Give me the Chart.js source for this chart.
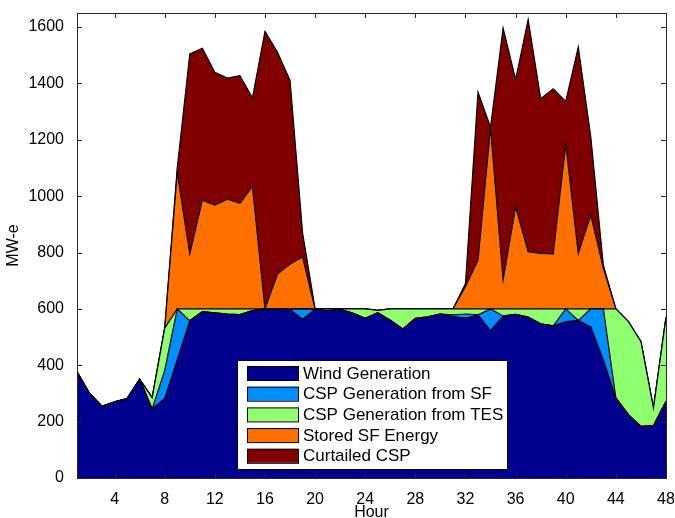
<!DOCTYPE html>
<html>
<head>
<meta charset="utf-8">
<script src="https://cdn.jsdelivr.net/npm/chart.js@4.4.1/dist/chart.umd.min.js"></script>
<style>
  html, body { margin: 0; padding: 0; background: #fff; }
</style>
</head>
<body>
<canvas id="energyChart" width="675" height="518"></canvas>
<script>
// Hourly dispatch, MW-e (stacked areas, bottom to top)
const hours = [1, 2, 3, 4, 5, 6, 7, 8, 9, 10, 11, 12, 13, 14, 15, 16, 17, 18, 19, 20, 21, 22, 23, 24,
  25, 26, 27, 28, 29, 30, 31, 32, 33, 34, 35, 36, 37, 38, 39, 40, 41, 42, 43, 44, 45, 46, 47, 48];

const windGeneration = [377, 300, 254, 270, 282, 350, 245, 282, 420, 558, 590, 586, 582, 580, 594, 599,
  600, 598, 563, 598, 594, 598, 585, 567, 587, 560, 529, 567, 572, 582, 573, 567,
  579, 523, 575, 581, 571, 547, 540, 555, 559, 536, 419, 284, 225, 183, 186, 272];

const cspFromSF = [0, 0, 0, 0, 0, 0, 0, 100, 180, 0, 0, 0, 0, 0, 0, 0,
  0, 0, 37, 0, 0, 0, 0, 0, 0, 0, 0, 0, 0, 0, 6, 15,
  0, 77, 0, 0, 0, 0, 0, 45, 0, 64, 181, 0, 0, 0, 0, 0];

const cspFromTES = [0, 0, 0, 0, 0, 0, 40, 150, 0, 42, 10, 14, 18, 20, 6, 1,
  0, 2, 0, 2, 6, 2, 15, 33, 8, 40, 71, 33, 28, 18, 21, 18,
  21, 0, 25, 19, 29, 53, 60, 0, 41, 0, 0, 316, 330, 301, 62, 298];

const storedSF = [0, 0, 0, 0, 0, 0, 0, 0, 485, 195, 386, 368, 389, 375, 435, 0,
  124, 159, 184, 0, 0, 0, 0, 0, 0, 0, 0, 0, 0, 0, 0, 80,
  173, 645, 103, 362, 203, 197, 195, 586, 197, 333, 145, 0, 0, 0, 0, 0];

const curtailedCSP = [0, 0, 0, 0, 0, 0, 0, 0, 15, 710, 539, 472, 430, 453, 314, 985,
  787, 652, 86, 0, 0, 0, 0, 0, 0, 0, 0, 0, 0, 0, 0, 10,
  596, 0, 894, 452, 824, 549, 586, 150, 732, 277, 10, 0, 0, 0, 0, 0];

const seriesNames = ['Wind Generation', 'CSP Generation from SF', 'CSP Generation from TES',
  'Stored SF Energy', 'Curtailed CSP'];
const seriesValues = [windGeneration, cspFromSF, cspFromTES, storedSF, curtailedCSP];
const seriesColors = ['#00008f', '#008fff', '#8fff70', '#ff7000', '#800000'];

const xTicks = [4, 8, 12, 16, 20, 24, 28, 32, 36, 40, 44, 48];
const yTicks = [0, 200, 400, 600, 800, 1000, 1200, 1400, 1600];

const FONT = '"Liberation Sans", Arial, Helvetica, sans-serif';

// MATLAB-like box with inward ticks on all four sides
const boxAxes = {
  id: 'boxAxes',
  afterDatasetsDraw(chart) {
    const { ctx, chartArea: a, scales } = chart;
    const len = 5;
    ctx.save();
    ctx.strokeStyle = '#262626';
    ctx.lineWidth = 1;
    ctx.beginPath();
    xTicks.forEach(v => {
      const px = Math.round(scales.x.getPixelForValue(v)) + 0.5;
      ctx.moveTo(px, a.bottom); ctx.lineTo(px, a.bottom - len);
      ctx.moveTo(px, a.top); ctx.lineTo(px, a.top + len);
    });
    yTicks.forEach(v => {
      const py = Math.round(scales.y.getPixelForValue(v)) + 0.5;
      ctx.moveTo(a.left, py); ctx.lineTo(a.left + len, py);
      ctx.moveTo(a.right, py); ctx.lineTo(a.right - len, py);
    });
    ctx.stroke();
    ctx.strokeRect(Math.round(a.left) + 0.5, Math.round(a.top) + 0.5,
      Math.round(a.right - a.left), Math.round(a.bottom - a.top));
    ctx.restore();
  }
};

// Legend box drawn inside the plot, like the original figure
const boxLegend = {
  id: 'boxLegend',
  afterDraw(chart) {
    const { ctx } = chart;
    const left = 237, top = 360, width = 270, height = 109;
    const rowStep = 20.7;
    ctx.save();
    ctx.fillStyle = '#fff';
    ctx.fillRect(left, top, width, height);
    ctx.strokeStyle = '#000';
    ctx.lineWidth = 1;
    ctx.strokeRect(left + 0.5, top + 0.5, width, height);
    ctx.font = '17px ' + FONT;
    ctx.textBaseline = 'middle';
    ctx.textAlign = 'left';
    chart.data.datasets.forEach((ds, i) => {
      const sy = top + 6 + i * rowStep;
      ctx.fillStyle = ds.backgroundColor;
      ctx.fillRect(left + 10, sy, 51, 14);
      ctx.strokeRect(left + 10.5, sy + 0.5, 51, 14);
      ctx.fillStyle = '#000';
      ctx.fillText(ds.label, left + 66, sy + 8);
    });
    ctx.restore();
  }
};

const datasets = seriesNames.map((name, i) => ({
  label: name,
  data: hours.map((h, j) => ({ x: h, y: seriesValues[i][j] })),
  backgroundColor: seriesColors[i],
  borderColor: '#000',
  borderWidth: 1.2,
  pointRadius: 0,
  tension: 0,
  fill: i === 0 ? 'origin' : '-1'
}));

new Chart(document.getElementById('energyChart').getContext('2d'), {
  type: 'line',
  data: { datasets: datasets },
  options: {
    responsive: false,
    animation: false,
    devicePixelRatio: 1,
    layout: { padding: { top: 13, right: 9, left: 0, bottom: 0 } },
    plugins: {
      legend: { display: false },
      tooltip: { enabled: false }
    },
    scales: {
      x: {
        type: 'linear',
        min: 1,
        max: 48,
        grid: { display: false },
        border: { display: false },
        afterBuildTicks: s => { s.ticks = xTicks.map(v => ({ value: v })); },
        afterFit: s => { s.height = 40; s.paddingLeft = 0; s.paddingRight = 0; },
        ticks: { color: '#000', font: { family: FONT, size: 16 }, padding: 4, autoSkip: false, maxRotation: 0,
          callback: v => String(v) },
        title: { display: true, text: 'Hour', color: '#000', font: { family: FONT, size: 16, lineHeight: 1 }, padding: { top: 0, bottom: -3 } }
      },
      y: {
        stacked: true,
        min: 0,
        max: 1650,
        grid: { display: false },
        border: { display: false },
        afterBuildTicks: s => { s.ticks = yTicks.map(v => ({ value: v })); },
        afterFit: s => { s.width = 77; s.paddingTop = 0; s.paddingBottom = 0; },
        ticks: { color: '#000', font: { family: FONT, size: 16 }, padding: 5, callback: v => String(v) },
        title: { display: true, text: 'MW-e', color: '#000', font: { family: FONT, size: 16, lineHeight: 1 }, padding: { top: 6, bottom: 0 } }
      }
    }
  },
  plugins: [boxAxes, boxLegend]
});
</script>
</body>
</html>
